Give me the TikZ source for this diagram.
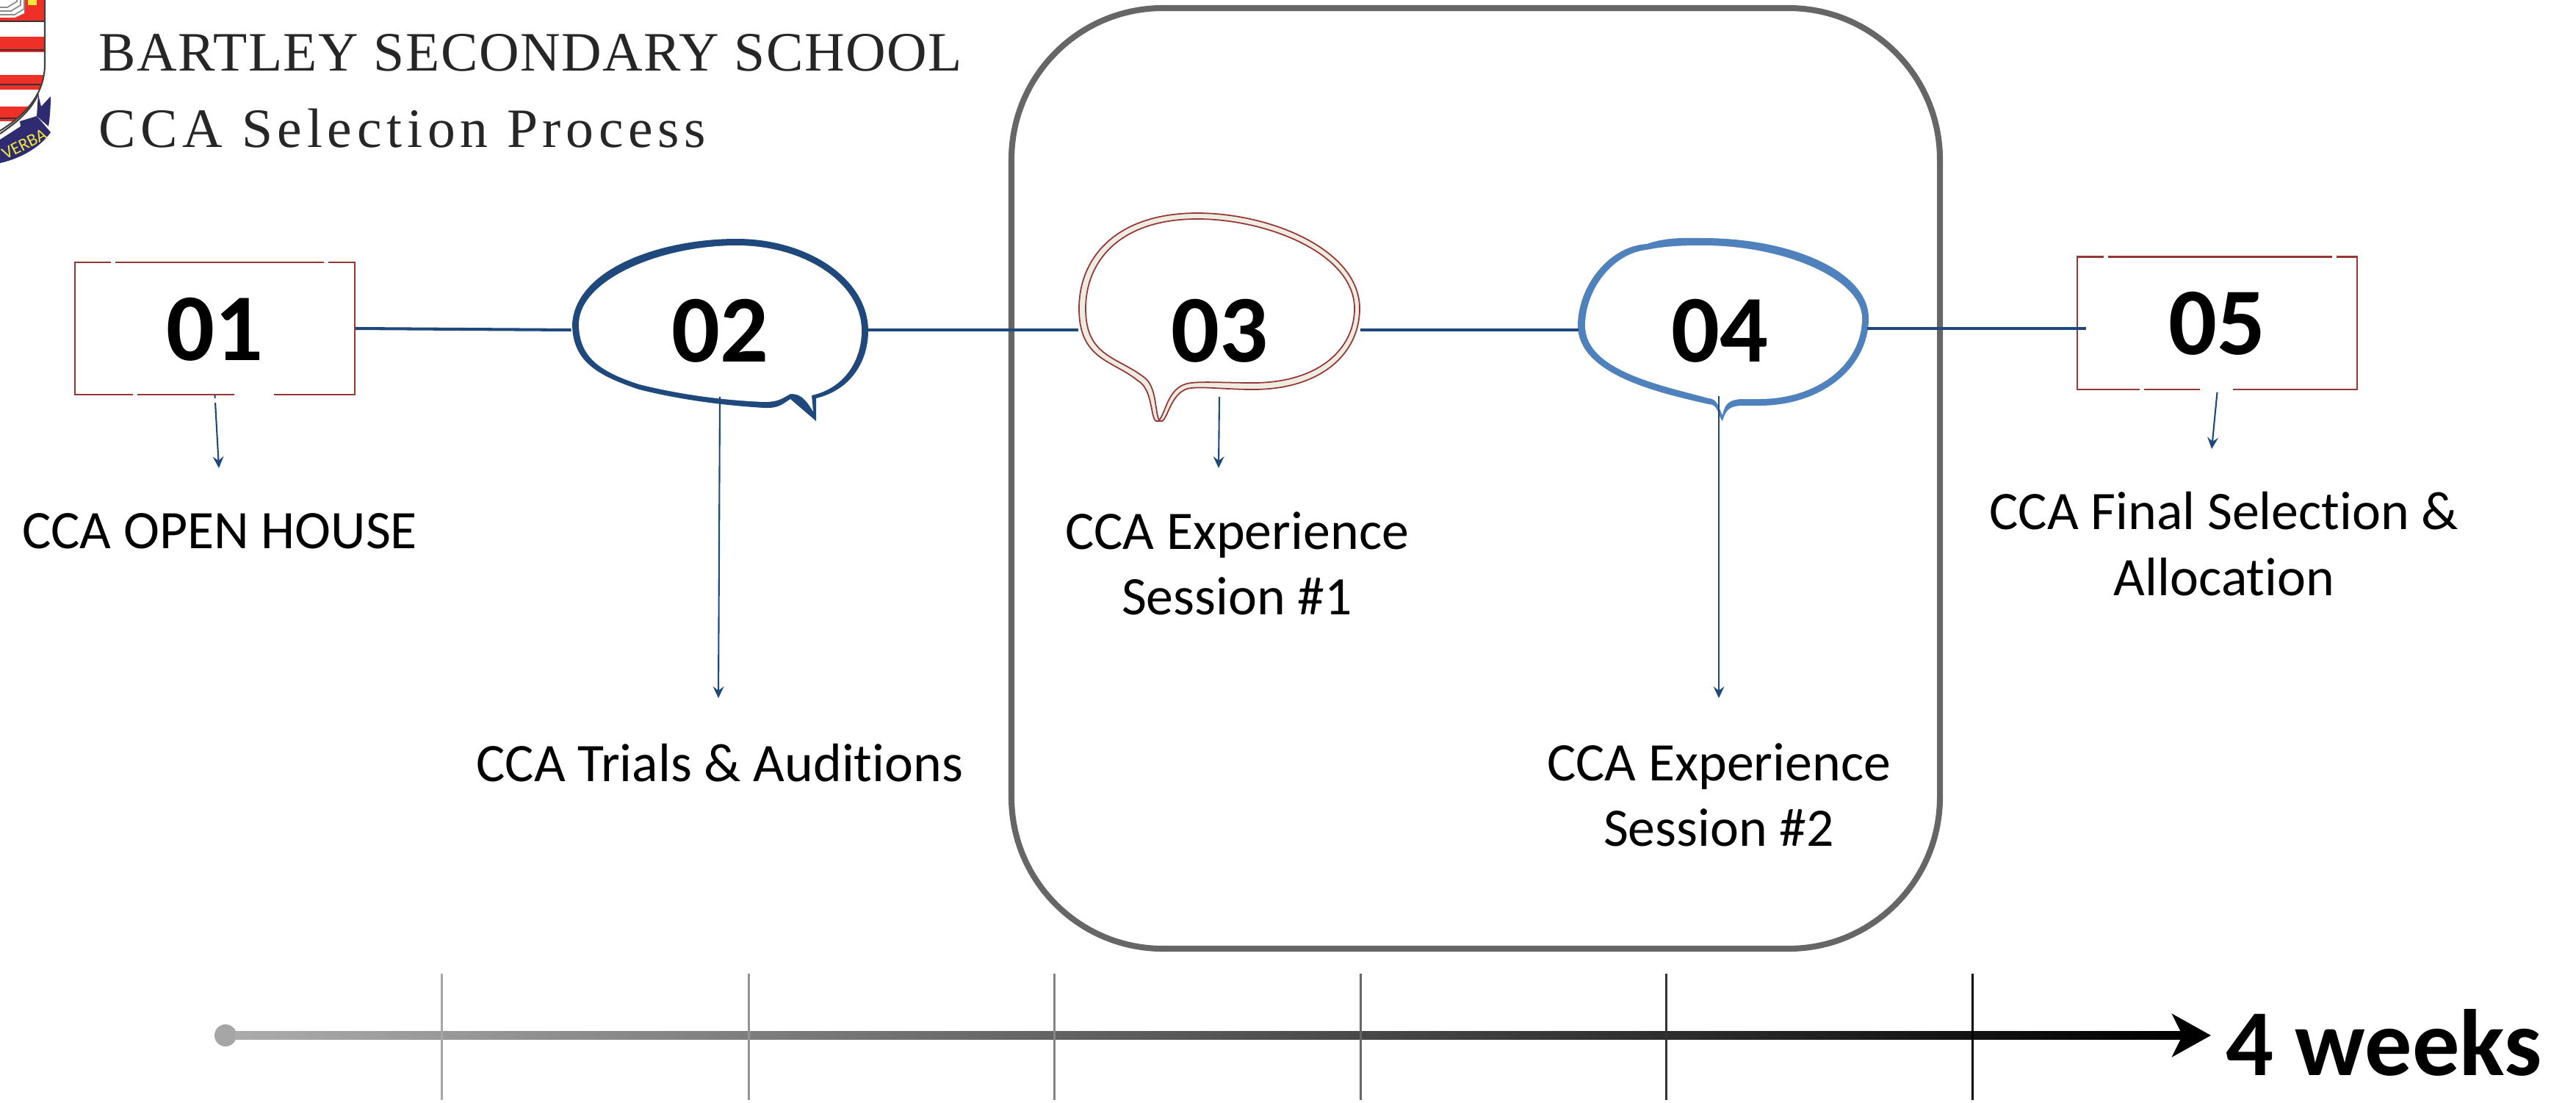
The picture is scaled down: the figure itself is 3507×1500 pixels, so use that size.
\documentclass[tikz,border=0pt]{standalone}
\usepackage{fontspec}
\setmainfont[Ligatures=NoCommon]{Carlito}
\newfontfamily\schoolfont[LetterSpace=2.1]{Liberation Serif}
\newfontfamily\titlefont[LetterSpace=8.9]{Liberation Serif}
\usetikzlibrary{arrows.meta}
\definecolor{linkblue}{HTML}{1F497D}
\definecolor{midblue}{HTML}{4F81BD}
\definecolor{boxred}{HTML}{953735}
\definecolor{bandcream}{HTML}{EEECE1}
\definecolor{framegray}{HTML}{666666}
\definecolor{crestred}{HTML}{EE3028}
\definecolor{crestnavy}{HTML}{2E2B70}
\definecolor{crestyellow}{HTML}{F2E83A}
\tikzset{
    numtext/.style={font=\fontsize{37}{37}\selectfont\bfseries,text height=0.87cm,inner sep=0pt},
    numbox/.style={numtext,draw=boxred,line width=0.6pt,minimum width=3.81cm,minimum height=1.8cm},
    numbub/.style={numtext,minimum height=1.8cm},
    link/.style={linkblue,line width=1.15pt},
    drop/.style={linkblue,line width=0.6pt,-{Stealth[length=4.5pt,width=4.2pt,inset=1.6pt]}},
    gapline/.style={white,line width=1.6pt},
    steplabel/.style={font=\fontsize{21}{25.5}\selectfont,align=center,inner sep=0pt},
    headlabel/.style={font=\fontsize{21.5}{25}\selectfont,text=black!85,anchor=base west,inner sep=0pt},
}
\begin{document}
\begin{tikzpicture}[x=0.01cm,y=-0.01cm]
    \useasboundingbox (0,0) rectangle (3507,1500);
    % crest
    \begin{scope}
        \clip (0,0) rectangle (75,240);
        \begin{scope}
            \clip (0,0) -- (61,0) -- (61,90) .. controls (60,120) and (45,150) .. (0,178) -- cycle;
            \foreach \ya/\yb in {0/28,50/71,102/122,145/165}
                \fill[crestred] (0,\ya) rectangle (62,\yb);
            \foreach \ya in {29,68,115,161}
                \draw[black!80,line width=0.6pt] (0,\ya) -- (62,\ya);
        \end{scope}
        \draw[black!75,line width=0.6pt] (61,0) -- (61,90) .. controls (60,120) and (45,150) .. (0,178);
        \draw[black!75,line width=0.6pt] (52,128) .. controls (42,150) and (25,165) .. (0,182);
        \fill[white] (0,0) -- (33,0) -- (33,18) -- (20,24) -- (0,24) -- cycle;
        \foreach \r in {0,5,10}
            \draw[black!45,line width=0.5pt] (0,{20-\r}) -- ({20-\r},{20-\r}) -- ({33-\r},{12-\r}) -- ({33-\r},0);
        \fill[crestyellow] (38,0) rectangle (50,7);
        \fill[crestnavy] (52,128) -- (56,145) -- (69,131) .. controls (69,145) and (68,160) .. (66,172) -- (50,158) -- cycle;
        \fill[crestnavy] (0,190) -- (28,172) -- (27,165) -- (50,158) -- (69,180) .. controls (55,200) and (30,215) .. (0,222) -- cycle;
    \end{scope}
    \node[font=\fontsize{6.8}{7}\selectfont,text=crestyellow,rotate=27,inner sep=0pt] (verba) at (33,196) {VERBA};
    \node[headlabel] (school) at (134,97) {\schoolfont BARTLEY SECONDARY SCHOOL};
    \node[headlabel] (title) at (134,200) {\titlefont CCA Selection Process};
    \draw[framegray,line width=2.3pt,rounded corners=2.06cm] (1377,11) rectangle (2641,1291);
    % speech bubbles, outer then inner outline
    \fill[linkblue] (779,440) .. controls (785,365) and (900,325) .. (1003,325) .. controls (1100,325) and (1182,380) .. (1182,450) .. controls (1182,490) and (1160,530) .. (1111,542) -- (1111,573) -- (1076,543) .. controls (1065,550) and (1060,556) .. (1040,555) .. controls (990,552) and (930,545) .. (870,530) .. controls (810,510) and (779,490) .. (779,440) -- cycle;
    \fill[white] (788,440) .. controls (790,380) and (900,334) .. (1003,334) .. controls (1095,334) and (1173,385) .. (1173,450) .. controls (1173,490) and (1150,528) .. (1105,538) -- (1107,560) .. controls (1095,540) and (1088,536) .. (1076,536) .. controls (1065,542) and (1060,547) .. (1040,547) .. controls (990,545) and (930,538) .. (870,523) .. controls (815,505) and (788,485) .. (788,440) -- cycle;
    \draw[boxred,fill=bandcream,line width=0.5pt] (1469,420) .. controls (1469,350) and (1520,290) .. (1630,290) .. controls (1730,290) and (1851,340) .. (1851,420) .. controls (1851,480) and (1800,530) .. (1706,530) .. controls (1670,530) and (1640,526) .. (1622,528) .. controls (1595,530) and (1590,570) .. (1582,573) -- (1574,573) .. controls (1566,570) and (1570,530) .. (1549,518) .. controls (1515,490) and (1469,490) .. (1469,420) -- cycle;
    \draw[boxred,fill=white,line width=0.5pt] (1478,420) .. controls (1478,355) and (1525,298) .. (1630,298) .. controls (1725,298) and (1844,345) .. (1844,420) .. controls (1844,475) and (1795,521) .. (1706,521) .. controls (1670,521) and (1640,519) .. (1622,521) .. controls (1590,524) and (1588,560) .. (1578,572) .. controls (1572,560) and (1575,525) .. (1557,513) .. controls (1520,485) and (1478,485) .. (1478,420) -- cycle;
    \fill[midblue] (2148,443) .. controls (2148,390) and (2190,335) .. (2242,332) .. controls (2270,322) and (2300,324) .. (2318,324) .. controls (2440,324) and (2544,370) .. (2544,433) .. controls (2544,500) and (2480,552) .. (2395,552) -- (2375,552) .. controls (2357,552) and (2350,555) .. (2345,573) .. controls (2338,565) and (2340,550) .. (2326,550) .. controls (2260,535) and (2148,510) .. (2148,443) -- cycle;
    \fill[white] (2158,443) .. controls (2158,395) and (2195,345) .. (2242,340) .. controls (2270,334) and (2300,334) .. (2318,334) .. controls (2430,334) and (2535,380) .. (2535,433) .. controls (2535,495) and (2475,543) .. (2395,543) -- (2375,543) .. controls (2355,543) and (2348,548) .. (2345,565) .. controls (2340,555) and (2338,542) .. (2326,542) .. controls (2265,525) and (2158,505) .. (2158,443) -- cycle;
    % numbers
    \node[numbox] (n01) at (292.5,447) {01};
    \node[numbub,minimum width=4.03cm] (n02) at (980,449) {02};
    \node[numbub,minimum width=3.82cm] (n03) at (1660,449) {03};
    \node[numbub,minimum width=3.94cm] (n04) at (2341,449) {04};
    \node[numbox] (n05) at (3018.5,439.5) {05};
    % labels
    \node[steplabel] (l01) at (299,723) {CCA OPEN HOUSE};
    \node[steplabel] (l02) at (980,1038) {CCA Trials \& Auditions};
    \node[steplabel] (l03) at (1684,767) {CCA Experience\\Session \#1};
    \node[steplabel] (l04) at (2340,1082) {CCA Experience\\Session \#2};
    \node[steplabel] (l05) at (3028,740) {CCA Final Selection \&\\Allocation};
    % connectors
    \coordinate (e04) at (2542,447);
    \coordinate (w05) at (2840,447);
    \draw[link] (n01.east) -- (n02.west);
    \draw[link] (n02.east) -- (n03.west);
    \draw[link] (n03.east) -- ([xshift=0.06cm]n04.west);
    \draw[link] (e04) -- (w05);
    \coordinate (a01) at (298,637);
    \coordinate (a02) at (978,950);
    \coordinate (a03) at (1659,637);
    \coordinate (s04) at (2340,539);
    \coordinate (a04) at (2340,950);
    \coordinate (a05) at (3011,611);
    \draw[drop] (n01.south) -- (a01);
    \draw[drop] (n02.south) -- (a02);
    \draw[drop] (n03.south) -- (a03);
    \draw[drop] (s04) -- (a04);
    \draw[drop] ([yshift=-0.03cm]n05.south) -- (a05);
    % breaks in the box edges
    \foreach \xa/\xb/\yy in {151/157/357,441/447/357,181/187/537,319/373/537,2864/2870/349,3175/3181/349,2913/2919/530,2995/3040/530}
        \draw[gapline] (\xa,\yy) -- (\xb,\yy);
    \draw[gapline] (285,545) -- (300,545);
    % time line
    \coordinate (t0) at (320,1403.5);
    \coordinate (t1) at (2975,1414.5);
    \coordinate (t2) at (2960,1409);
    \coordinate (t3) at (3010,1409);
    \node[circle,fill=black!35,minimum size=0.3cm,inner sep=0pt] (tdot) at (307,1409) {};
    \shade[left color=black!33,middle color=black!56,right color=black] (t0) rectangle (t1);
    \foreach \tx/\tk in {601/35,1019/42,1435/48,1852/60,2268/80,2685/100}
        \draw[black!\tk,line width=0.85pt] (\tx,1325) -- (\tx,1497);
    \draw[black,line width=3.1pt,-{Stealth[length=15pt,width=16.5pt,inset=4pt]}] (t2) -- (t3);
    \node[anchor=base west,inner sep=0pt,font=\fontsize{36.5}{37}\selectfont\bfseries] (weeks) at (3030,1463) {4 weeks};
\end{tikzpicture}
\end{document}
